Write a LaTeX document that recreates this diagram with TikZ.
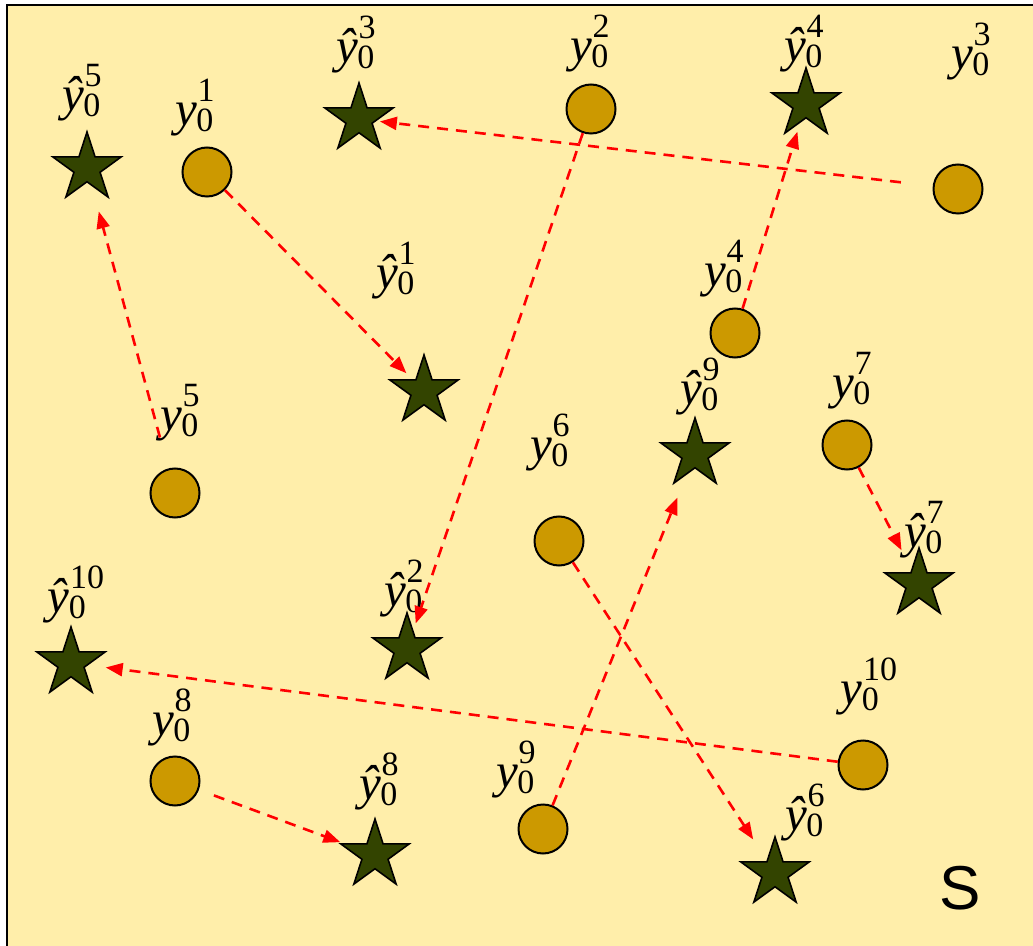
\documentclass[tikz,border=0pt]{standalone}
\usepackage{fontspec}
\setmainfont{Liberation Serif}
\newfontfamily\labelsans{Liberation Sans}
\usetikzlibrary{shapes.geometric,arrows.meta}
\definecolor{paper}{HTML}{FFEEAA}
\definecolor{gold}{HTML}{CC9900}
\definecolor{olive}{HTML}{334400}
% large italic symbol with subscript 0 and raised index of the same size
\newcommand{\ylab}[2]{%
  {\fontsize{24.5}{26}\selectfont\textit{#1}}\kern-0.3pt%
  {\fontsize{17}{18}\selectfont
   \rlap{\raisebox{-3pt}{0}}\raisebox{12pt}{\kern0.6pt#2}}}
\begin{document}
\begin{tikzpicture}[x=0.5pt,y=-0.5pt,
  obs/.style={circle,draw=black,line width=1pt,fill=gold,minimum size=24.5pt,inner sep=0pt},
  est/.style={star,star points=5,star point ratio=2.618,draw=black,line width=0.8pt,
              fill=olive,minimum size=36pt,inner sep=0pt},
  lab/.style={inner sep=0pt},
  link/.style={draw=red,line width=1.3pt,dash pattern=on 5.5pt off 4pt,
               -{Triangle[length=8.5pt,width=6.5pt]}}]
\useasboundingbox (0,0) rectangle (1033,946);
\clip (0,0) rectangle (1033,946);
\draw[line width=1.25pt,fill=paper] (7,5) rectangle (1050,960);

% labels
\node[lab] (l1)  at (195,108) {\ylab{y}{1}};
\node[lab] (l2)  at (590,44)  {\ylab{y}{2}};
\node[lab] (l3)  at (971,52)  {\ylab{y}{3}};
\node[lab] (l4)  at (724,269) {\ylab{y}{4}};
\node[lab] (l5)  at (180,413) {\ylab{y}{5}};
\node[lab] (l6)  at (550,443) {\ylab{y}{6}};
\node[lab] (l7)  at (852,381) {\ylab{y}{7}};
\node[lab] (l8)  at (172,717) {\ylab{y}{8}};
\node[lab] (l9)  at (516,770) {\ylab{y}{9}};
\node[lab] (l10) at (869,686) {\ylab{y}{10}};
\node[lab] (h1)  at (396,271) {\ylab{\^y}{1}};
\node[lab] (h2)  at (404,589) {\ylab{\^y}{2}};
\node[lab] (h3)  at (356,45)  {\ylab{\^y}{3}};
\node[lab] (h4)  at (804,44)  {\ylab{\^y}{4}};
\node[lab] (h5)  at (82,93)   {\ylab{\^y}{5}};
\node[lab] (h6)  at (805,813) {\ylab{\^y}{6}};
\node[lab] (h7)  at (924,530) {\ylab{\^y}{7}};
\node[lab] (h8)  at (379,781) {\ylab{\^y}{8}};
\node[lab] (h9)  at (700,387) {\ylab{\^y}{9}};
\node[lab] (h10) at (76,594)  {\ylab{\^y}{10}};

% observed points
\node[obs] (c1)  at (207,172) {};
\node[obs] (c2)  at (591,109) {};
\node[obs] (c3)  at (958,189) {};
\node[obs] (c4)  at (735,333) {};
\node[obs] (c5)  at (175,493) {};
\node[obs] (c6)  at (559,541) {};
\node[obs] (c7)  at (847,445) {};
\node[obs] (c8)  at (175,781) {};
\node[obs] (c9)  at (543,829) {};
\node[obs] (c10) at (863,765) {};

% estimated points
\node[est] (s1)  at (424,391) {};
\node[est] (s2)  at (407,649) {};
\node[est] (s3)  at (359,119) {};
\node[est] (s4)  at (806,104) {};
\node[est] (s5)  at (87,168)  {};
\node[est] (s6)  at (775,873) {};
\node[est] (s7)  at (919,584) {};
\node[est] (s8)  at (375,855) {};
\node[est] (s9)  at (695,454) {};
\node[est] (s10) at (71,663)  {};

% mapping y -> y-hat
\draw[link,shorten >=12.5pt] (c1) -- (s1.center);
\draw[link,shorten >=13.5pt] (c2) -- (s2.center);
\draw[link,shorten <=16pt,shorten >=10.5pt] (c3) -- (s3.center);
\draw[link,shorten >=14.5pt] (c4) -- (s4.center);
\draw[link,shorten <=16pt,shorten >=22.5pt] (c5) -- (s5.center);
\draw[link,shorten >=20pt] (c6) -- (s6.center);
\draw[link,shorten >=19pt] (c7) -- (s7.center);
\draw[link,shorten <=8pt,shorten >=18.5pt] (c8) -- (s8.center);
\draw[link,shorten >=23.5pt] (c9) -- (s9.center);
\draw[link,shorten >=17.5pt] (c10) -- (s10.center);

\node[inner sep=0pt,font=\labelsans\fontsize{31}{31}\selectfont] (S) at (960,888) {S};
\end{tikzpicture}
\end{document}
